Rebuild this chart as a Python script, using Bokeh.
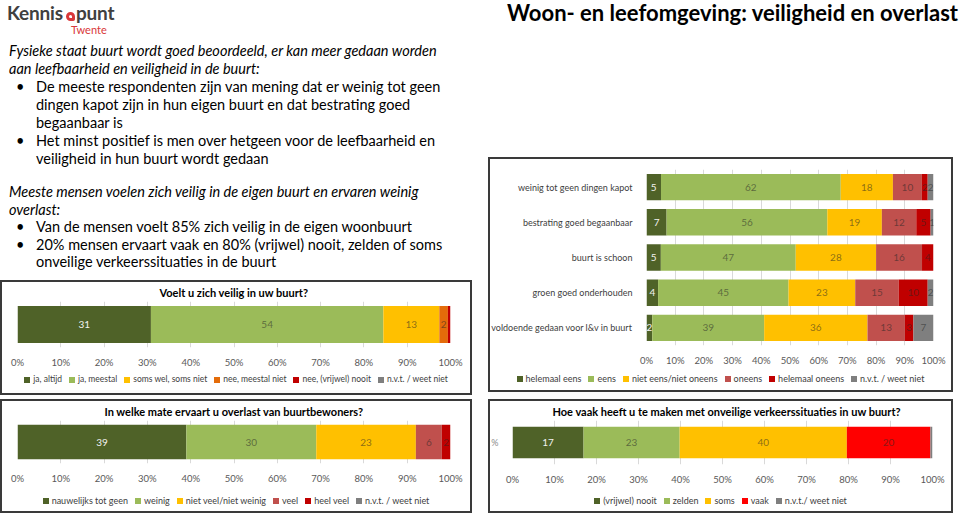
from bokeh.plotting import figure
from bokeh.models import (ColumnDataSource, Range1d, FactorRange, FixedTicker,
                          PrintfTickFormatter, Div, Spacer)
from bokeh.layouts import row, column
from bokeh.embed import file_html
from bokeh.resources import INLINE
from bokeh.core.properties import value

FONT = "Lato"

# ---------------- data ----------------
x_ticks = [0, 10, 20, 30, 40, 50, 60, 70, 80, 90, 100]

q1_title = "Voelt u zich veilig in uw buurt?"
q1_cats = ["q1"]
q1_labels = ["ja, altijd", "ja, meestal", "soms wel, soms niet", "nee, meestal niet",
             "nee, (vrijwel) nooit", "n.v.t. / weet niet"]
q1_values = [[31], [54], [13], [2], [0.6], [0]]
q1_colors = ["#4f6228", "#9bbb59", "#ffc000", "#e46c0a", "#c00000", "#7f7f7f"]

q2_cats = ["weinig tot geen dingen kapot", "bestrating goed begaanbaar", "buurt is schoon",
           "groen goed onderhouden", "voldoende gedaan voor l&v in buurt"]
q2_labels = ["helemaal eens", "eens", "niet eens/niet oneens", "oneens",
             "helemaal oneens", "n.v.t. / weet niet"]
q2_helemaal_eens = [5, 7, 5, 4, 2]
q2_eens = [62, 56, 47, 45, 39]
q2_neutraal = [18, 19, 28, 23, 36]
q2_oneens = [10, 12, 16, 15, 13]
q2_helemaal_oneens = [2, 5, 4, 10, 3]
q2_nvt = [2, 1, 0, 2, 7]
q2_colors = ["#4f6228", "#9bbb59", "#ffc000", "#c0504d", "#c00000", "#7f7f7f"]

q3_title = "In welke mate ervaart u overlast van buurtbewoners?"
q3_cats = ["q3"]
q3_labels = ["nauwelijks tot geen", "weinig", "niet veel/niet weinig", "veel",
             "heel veel", "n.v.t. / weet niet"]
q3_values = [[39], [30], [23], [6], [2], [0]]
q3_colors = ["#4f6228", "#9bbb59", "#ffc000", "#c0504d", "#c00000", "#7f7f7f"]

q4_title = "Hoe vaak heeft u te maken met onveilige verkeerssituaties in uw buurt?"
q4_cats = ["%"]
q4_labels = ["(vrijwel) nooit", "zelden", "soms", "vaak", "n.v.t./ weet niet"]
q4_values = [[17], [23], [40], [20], [0.5]]
q4_colors = ["#4f6228", "#9bbb59", "#ffc000", "#ff0000", "#7f7f7f"]

BOX = {"outline": "2px solid #3a3a3a", "outline-offset": "-2px"}


def make_chart(cats, series, colors, title, width, height, mb_left, mb_right,
               mb_top, mb_bottom, bar_h, show_y, title_offset=None):
    n = len(cats)
    totals = [sum(s[i] for s in series) for i in range(n)]
    data = {"cat": cats}
    keys = []
    for k, s in enumerate(series):
        key = "s%d" % k
        keys.append(key)
        data[key] = [100.0 * s[i] / totals[i] for i in range(n)]
    src = ColumnDataSource(data)

    p = figure(width=width, height=height, x_range=Range1d(0, 100),
               y_range=FactorRange(factors=list(reversed(cats))),
               output_backend="svg", toolbar_location=None,
               min_border_left=mb_left, min_border_right=mb_right,
               min_border_top=mb_top, min_border_bottom=mb_bottom)
    p.border_fill_color = None
    p.background_fill_color = None
    if title:
        p.title.text = title
        p.title.text_font = FONT
        p.title.text_font_size = "11px"
        p.title.text_font_style = "bold"
        p.title.text_color = "#000000"
        p.title.standoff = 6
        if title_offset is None:
            p.title.align = "center"
        else:
            p.title.align = "left"
            p.title.offset = title_offset
    p.hbar_stack(keys, y="cat", height=bar_h, fill_color=colors,
                 line_color=None, source=src)

    lx, ly, lt, lc, la = [], [], [], [], []
    for i in range(n):
        cum = 0.0
        for k, s in enumerate(series):
            v = data[keys[k]][i]
            if s[i] >= 1:
                lx.append(cum + v / 2.0)
                ly.append(cats[i])
                lt.append("%g" % s[i])
                lc.append("#f2f2f2" if k == 0 else "#262626")
                la.append(1.0 if k == 0 else 0.55)
            cum += v
    lsrc = ColumnDataSource(dict(x=lx, y=ly, t=lt, c=lc, a=la))
    p.text(x="x", y="y", text="t", source=lsrc, text_align="center",
           text_baseline="middle", text_font=value(FONT), text_font_size="10px",
           text_color="c", text_alpha="a")

    p.xaxis.ticker = FixedTicker(ticks=x_ticks)
    p.xaxis.formatter = PrintfTickFormatter(format="%d%%")
    p.xaxis.axis_line_color = None
    p.xaxis.major_tick_line_color = None
    p.xaxis.minor_tick_line_color = None
    p.xaxis.major_label_text_font = FONT
    p.xaxis.major_label_text_font_size = "9.5px"
    p.xaxis.major_label_text_color = "#595959"
    p.xaxis.major_label_standoff = 3
    p.xgrid.ticker = FixedTicker(ticks=x_ticks)
    p.xgrid.grid_line_color = "#d9d9d9"
    p.ygrid.grid_line_color = None
    p.yaxis.axis_line_color = None
    p.yaxis.major_tick_line_color = None
    p.yaxis.minor_tick_line_color = None
    p.yaxis.major_label_text_font = FONT
    p.yaxis.major_label_text_font_size = "9px"
    p.yaxis.major_label_text_color = "#404040" if show_y != "%" else "#8c8c8c"
    p.yaxis.major_label_standoff = 8
    if not show_y:
        p.yaxis.visible = False
    p.outline_line_color = None
    return p


def make_legend(names, colors, width, height, pad_top, font_px):
    parts = []
    for name, col in zip(names, colors):
        parts.append(
            '<span style="display:inline-flex; align-items:center;">'
            '<span style="display:inline-block; width:6px; height:6px; background:%s; '
            'margin-right:3px;"></span>%s</span>' % (col, name))
    html = ('<div style="width:%dpx; height:%dpx; box-sizing:border-box; padding-top:%dpx; '
            'display:flex; justify-content:center; align-items:flex-start; column-gap:7px; '
            'font-family:Lato; font-size:%spx; line-height:11px; color:#404040; '
            'white-space:nowrap; overflow:hidden;">%s</div>'
            % (width, height, pad_top, font_px, "".join(parts)))
    return Div(text=html, width=width, height=height, margin=(0, 0, 0, 0))


fig1 = make_chart(q1_cats, q1_values, q1_colors, q1_title, 472, 90,
                  17, 22, 0, 20, 0.8, False)
leg1 = make_legend(q1_labels, q1_colors, 472, 25, 4, 8.5)

fig2 = make_chart(q2_cats, [q2_helemaal_eens, q2_eens, q2_neutraal, q2_oneens,
                            q2_helemaal_oneens, q2_nvt],
                  q2_colors, None, 465, 211, 154, 20, 12, 20, 0.75, True)
leg2 = make_legend(q2_labels, q2_colors, 465, 24, 5, 9)

fig3 = make_chart(q3_cats, q3_values, q3_colors, q3_title, 472, 87,
                  17, 22, 0, 20, 0.8, False)
leg3 = make_legend(q3_labels, q3_colors, 472, 27, 9, 9)

fig4 = make_chart(q4_cats, q4_values, q4_colors, q4_title, 465, 88,
                  24, 21, 0, 20, 0.72, "%", title_offset=40)
leg4 = make_legend(q4_labels, q4_colors, 465, 26, 8, 9)

box1 = column(fig1, leg1, styles=BOX)
box2 = column(fig2, leg2, styles=BOX)
box3 = column(fig3, leg3, styles=BOX)
box4 = column(fig4, leg4, styles=BOX)

text_html = """
<div style="position:relative; width:472px; height:270px; font-family:Lato; color:#000; white-space:nowrap;">
 <div style="position:absolute; left:2px; top:-6px; height:34px; width:110px;">
  <span style="font-weight:bold; font-size:19px; color:#404040; letter-spacing:-0.2px;">Kennis</span><span style="display:inline-block; width:9px; height:9px; border:3px solid #d9383a; border-radius:5px 5px 2px 5px; margin:0 1px 0 3px; vertical-align:-1px;"></span><span style="font-weight:bold; font-size:19px; color:#404040; letter-spacing:-0.2px;">punt</span>
  <div style="position:absolute; left:64px; top:25px; color:#d9383a; font-size:11px; line-height:11px;">Twente</div>
 </div>
 <div style="position:absolute; left:4px; top:37px; font-size:14.5px; line-height:18px;">
  <i>Fysieke staat buurt wordt goed beoordeeld, er kan meer gedaan worden<br>aan leefbaarheid en veiligheid in de buurt:</i>
  <div style="position:relative; padding-left:27px;"><span style="position:absolute; left:7px;">&bull;</span>De meeste respondenten zijn van mening dat er weinig tot geen<br>dingen kapot zijn in hun eigen buurt en dat bestrating goed<br>begaanbaar is</div>
  <div style="position:relative; padding-left:27px;"><span style="position:absolute; left:7px;">&bull;</span>Het minst positief is men over hetgeen voor de leefbaarheid en<br>veiligheid in hun buurt wordt gedaan</div>
 </div>
 <div style="position:absolute; left:4px; top:178px; font-size:14.5px; line-height:17.5px;">
  <i>Meeste mensen voelen zich veilig in de eigen buurt en ervaren weinig<br>overlast:</i>
  <div style="position:relative; padding-left:27px;"><span style="position:absolute; left:7px;">&bull;</span>Van de mensen voelt 85% zich veilig in de eigen woonbuurt</div>
  <div style="position:relative; padding-left:27px;"><span style="position:absolute; left:7px;">&bull;</span>20% mensen ervaart vaak en 80% (vrijwel) nooit, zelden of soms<br>onveilige verkeerssituaties in de buurt</div>
 </div>
</div>
"""
title_html = """
<div style="width:465px; text-align:right; font-family:Lato; font-weight:bold; font-size:22px; line-height:24px; white-space:nowrap; color:#000; margin-top:-4px;">Woon- en leefomgeving: veiligheid en overlast</div>
"""

left_top = Div(text=text_html, width=472, height=270)
right_top = Div(text=title_html, width=465, height=147)

left = column(left_top, box1, Spacer(width=472, height=4), box3)
right = column(right_top, box2, Spacer(width=465, height=7), box4)
layout = row(left, Spacer(width=6, height=503), right)

open("out.html", "w").write(file_html(layout, INLINE))
